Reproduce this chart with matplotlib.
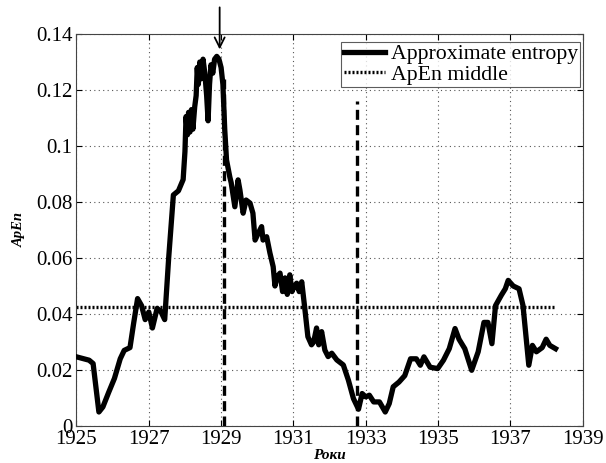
import matplotlib
matplotlib.use("Agg")
import matplotlib.pyplot as plt
from matplotlib.ticker import FuncFormatter

years = [1925.0, 1925.35, 1925.46, 1925.62, 1925.73, 1925.89, 1926.05, 1926.21, 1926.32, 1926.48,
         1926.58, 1926.69, 1926.8, 1926.9, 1927.0, 1927.1, 1927.23, 1927.33, 1927.44, 1927.55,
         1927.68, 1927.82, 1927.95, 1928.0, 1928.03, 1928.07, 1928.1, 1928.14, 1928.18, 1928.22,
         1928.27, 1928.31, 1928.34, 1928.37, 1928.41, 1928.45, 1928.5, 1928.55, 1928.6, 1928.64,
         1928.68, 1928.72, 1928.77, 1928.82, 1928.88, 1928.94, 1929.0, 1929.05, 1929.1, 1929.15,
         1929.24, 1929.28, 1929.38, 1929.47, 1929.52, 1929.61, 1929.69, 1929.8, 1929.88, 1929.94,
         1930.03, 1930.12, 1930.16, 1930.26, 1930.35, 1930.44, 1930.49, 1930.55, 1930.63, 1930.7,
         1930.77, 1930.83, 1930.9, 1930.96, 1931.03, 1931.09, 1931.16, 1931.23, 1931.32, 1931.4,
         1931.5, 1931.56, 1931.64, 1931.7, 1931.78, 1931.87, 1931.96, 1932.06, 1932.2, 1932.38,
         1932.52, 1932.66, 1932.8, 1932.9, 1933.0, 1933.1, 1933.22, 1933.38, 1933.54, 1933.65,
         1933.76, 1933.92, 1934.08, 1934.24, 1934.4, 1934.51, 1934.61, 1934.78, 1934.99, 1935.15,
         1935.31, 1935.47, 1935.58, 1935.74, 1935.93, 1936.11, 1936.27, 1936.38, 1936.49, 1936.59,
         1936.75, 1936.86, 1936.94, 1937.08, 1937.24, 1937.35, 1937.51, 1937.61, 1937.72, 1937.88,
         1937.99, 1938.09, 1938.25]
apen = [0.0247, 0.0235, 0.0223, 0.005, 0.0068, 0.012, 0.017, 0.024, 0.027, 0.028,
        0.0366, 0.0455, 0.043, 0.038, 0.0407, 0.035, 0.042, 0.041, 0.038, 0.060,
        0.0825, 0.084, 0.088, 0.098, 0.1105, 0.104, 0.112, 0.105, 0.113, 0.106,
        0.114, 0.118, 0.128, 0.122, 0.130, 0.124, 0.131, 0.126, 0.118, 0.109,
        0.122, 0.129, 0.126, 0.131, 0.132, 0.131, 0.128, 0.122, 0.106, 0.095,
        0.089, 0.0868, 0.0783, 0.0879, 0.0843, 0.076, 0.0807, 0.0796, 0.076, 0.0664,
        0.0689, 0.0712, 0.0664, 0.0676, 0.0618, 0.0569, 0.0500, 0.0533, 0.0546, 0.0480,
        0.0529, 0.0470, 0.054, 0.0480, 0.050, 0.051, 0.0480, 0.0515, 0.0414, 0.0319,
        0.029, 0.0300, 0.035, 0.0290, 0.0337, 0.0271, 0.0248, 0.026, 0.0236, 0.0218,
        0.0164, 0.0098, 0.006, 0.0116, 0.0104, 0.011, 0.0086, 0.0086, 0.005, 0.008,
        0.014, 0.0157, 0.018, 0.024, 0.024, 0.0217, 0.0247, 0.021, 0.0205, 0.0235,
        0.0276, 0.0348, 0.031, 0.0276, 0.0199, 0.0265, 0.037, 0.037, 0.0294, 0.043,
        0.0467, 0.049, 0.052, 0.050, 0.049, 0.043, 0.0217, 0.0288, 0.0265, 0.028,
        0.031, 0.0288, 0.0276]
apen_middle = 0.0425
event_years = [1929.08, 1932.76]
event_tops = [0.124, 0.116]
arrow_year = 1928.96
xticks = list(range(1925, 1940, 2))
yticks = [0, 0.02, 0.04, 0.06, 0.08, 0.1, 0.12, 0.14]

plt.rcParams['font.family'] = ['Liberation Serif', 'DejaVu Serif']
fig = plt.figure(figsize=(6.06, 4.63), dpi=100)
ax = fig.add_axes([0.1262, 0.0799, 0.8353, 0.8467])

ax.plot(years, apen, color='black', lw=3.8, solid_joinstyle='round', label='Approximate entropy', zorder=3)
ax.plot([years[0], years[-1]], [apen_middle, apen_middle], color='black', lw=2.4,
        linestyle=(0, (0.6, 0.6)), label='ApEn middle', zorder=2)
for ex, et in zip(event_years, event_tops):
    ax.plot([ex, ex], [0, et], color='black', lw=2.4, linestyle=(0, (3, 1.6)), zorder=4)

ax.annotate('', xy=(arrow_year, 0.1335), xytext=(arrow_year, 0.1505),
            arrowprops=dict(arrowstyle='->', color='black', lw=1.3, mutation_scale=18),
            annotation_clip=False)

ax.set_xlim(1925, 1939)
ax.set_ylim(0, 0.14)
ax.set_xticks(xticks)
ax.set_yticks(yticks)
ax.yaxis.set_major_formatter(FuncFormatter(lambda v, p: '%g' % v))
ax.grid(True, color='#555555', linestyle=(0, (1, 3)), lw=0.8)
ax.tick_params(direction='in', top=True, right=True, labelsize=15, length=4, pad=3)
for s in ax.spines.values():
    s.set_linewidth(0.8)
    s.set_color('#444444')

ax.set_xlabel('Роки', fontsize=11, fontweight='bold', style='italic', labelpad=0)
ax.set_ylabel('ApEn', fontsize=10.5, fontweight='bold', style='italic', labelpad=7)

leg = ax.legend(loc='upper right', bbox_to_anchor=(0.995, 0.98), fontsize=15.7, frameon=True,
                fancybox=False, edgecolor='#333333', borderpad=0.1, handlelength=1.9,
                handletextpad=0.27, labelspacing=0.0, borderaxespad=0)
leg.get_frame().set_linewidth(0.8)

fig.savefig('out.png', dpi=100)
